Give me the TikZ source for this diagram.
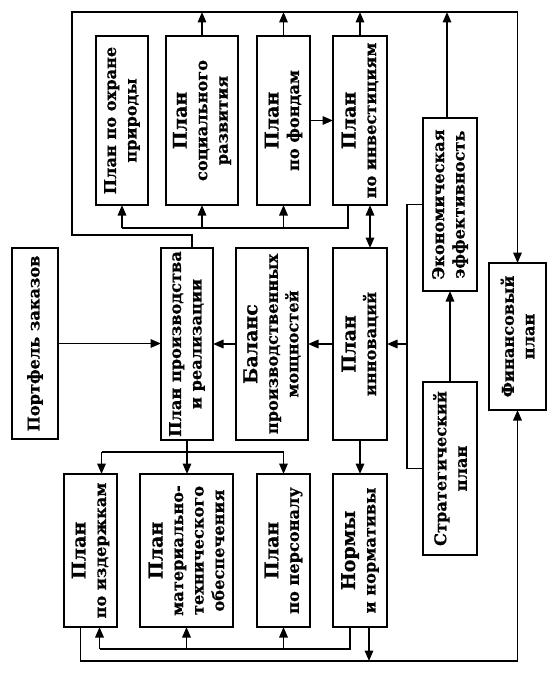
\documentclass[tikz,border=0pt]{standalone}
\usepackage{fontspec}
\setmainfont{DejaVu Serif}[BoldFeatures={FakeBold=0.6}]
\usetikzlibrary{arrows.meta}
\newcommand\hd[1]{{\fontsize{19}{21}\selectfont #1}}
\newcommand\mybox[6]{%
  \node[box, minimum width={(#3-#1)*1pt}, minimum height={(#4-#2)*1pt}] (#5) at ({(#1+#3)/2},{(#2+#4)/2}) {};
  \node[boxtext] (#5t) at (#5.center) {#6};
}
\tikzset{
  box/.style={draw, line width=1.6pt, inner sep=0pt, outer sep=0pt},
  boxtext/.style={rotate=90, align=center, inner sep=0pt, font=\bfseries\fontsize{16.2}{20.5}\selectfont},
  ln/.style={line width=1.6pt},
  arr/.style={ln, -{Triangle[length=10.5pt,width=8.5pt]}},
  darr/.style={ln, {Triangle[length=10.5pt,width=8.5pt]}-{Triangle[length=10.5pt,width=8.5pt]}},
}
\begin{document}
\begin{tikzpicture}[x=1pt,y=-1pt]
\useasboundingbox[fill=white] (0,0) rectangle (556,679);
% boxes
\mybox{96}{36}{148}{205}{ohr}{План по охране\\природы}
\mybox{166}{36}{238}{205}{soc}{\hd{План}\\социального\\развития}
\mybox{257}{36}{310}{205}{fond}{\hd{План}\\по фондам}
\mybox{333}{36}{387}{205}{inv}{\hd{План}\\по инвестициям}
\mybox{12}{248}{58}{439}{port}{Портфель заказов}
\mybox{161}{248}{213}{440}{prod}{План производства\\и реализации}
\mybox{236}{248}{308}{440}{bal}{\hd{Баланс}\\производственных\\мощностей}
\mybox{333}{248}{387}{440}{inn}{\hd{План}\\инноваций}
\mybox{64}{474}{117}{627}{izd}{\hd{План}\\по издержкам}
\mybox{140}{474}{233}{627}{mat}{\hd{План}\\материально-\\технического\\обеспечения}
\mybox{257}{474}{310}{627}{pers}{\hd{План}\\по персоналу}
\mybox{333}{474}{387}{627}{norm}{\hd{Нормы}\\и нормативы}
\mybox{423}{118}{477}{291}{econ}{Экономическая\\эффективность}
\mybox{423}{382}{477}{555}{strat}{Стратегический\\план}
\mybox{489}{263}{546}{410}{fin}{Финансовый\\план}
% helper coordinates
\coordinate (tl) at (72,12);
\coordinate (bl) at (72,235);
\coordinate (b1) at (0,228);
\coordinate (b2) at (0,452);
\coordinate (b3) at (0,649);
\coordinate (b4) at (0,661);
\coordinate (vx) at (407,0);
\coordinate (prodT) at ([xshift=5pt]prod.north);
\coordinate (invL) at ([xshift=-12pt]inv.south);
\coordinate (invR) at ([xshift=10pt]inv.south);
\coordinate (innR) at ([xshift=10pt]inn.north);
\coordinate (econT) at ([xshift=-3pt]econ.north);
\coordinate (izdT) at ([xshift=11pt]izd.north);
\coordinate (izdB) at ([xshift=9pt]izd.south);
\coordinate (izdO) at ([xshift=-10pt]izd.south);
\coordinate (normL) at ([xshift=-10pt]norm.south);
\coordinate (normR) at ([xshift=9pt]norm.south);
% outer loop to financial plan
\draw[arr] (prodT) |- (bl) -- (tl) -| (fin.north);
\draw[arr] (soc.north) -- (soc.north |- tl);
\draw[arr] (fond.north) -- (fond.north |- tl);
\draw[arr] (inv.north) -- (inv.north |- tl);
\draw[arr] (econT) -- (econT |- tl);
% bus under top row
\draw[ln] (invL) |- (ohr.south |- b1);
\draw[arr] (ohr.south |- b1) -- (ohr.south);
\draw[arr] (soc.south |- b1) -- (soc.south);
\draw[arr] (fond.south |- b1) -- (fond.south);
\draw[darr] (invR) -- (innR);
\draw[arr] (fond.east) -- (fond.east -| inv.west);
% middle row
\draw[arr] (port.east) -- (port.east -| prod.west);
\draw[arr] (bal.west) -- (bal.west -| prod.east);
\draw[arr] (inn.west) -- (inn.west -| bal.east);
\draw[ln] (econ.west) -- (econ.west -| vx) -- (strat.west -| vx) -- (strat.west);
\draw[arr] (inn.east -| vx) -- (inn.east);
\draw[arr] (strat.north) -- (econ.south);
% to bottom row
\draw[arr] (prod.south) -- (prod.south |- mat.north);
\draw[ln] (izdT |- b2) -- (pers.north |- b2);
\draw[arr] (izdT |- b2) -- (izdT);
\draw[arr] (pers.north |- b2) -- (pers.north);
\draw[arr] (inn.south) -- (norm.north);
% bus from norms
\draw[ln] (normL) |- (izdB |- b3);
\draw[arr] (izdB |- b3) -- (izdB);
\draw[arr] (mat.south |- b3) -- (mat.south);
\draw[arr] (pers.south |- b3) -- (pers.south);
% bottom loop to financial plan
\draw[arr] (izdO) |- (fin.south |- b4) -- (fin.south);
\draw[arr] (normR) -- (normR |- b4);
\end{tikzpicture}
\end{document}
